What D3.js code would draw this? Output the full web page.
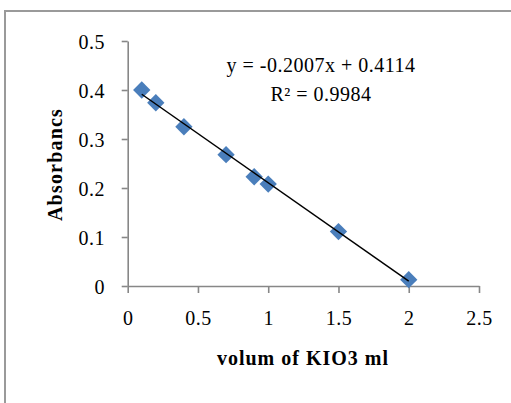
<!DOCTYPE html>
<html>
<head>
<meta charset="utf-8">
<script src="https://cdn.jsdelivr.net/npm/d3@7"></script>
<style>
  html, body { margin: 0; padding: 0; background: #fff; }
  svg { display: block; }
  text { font-family: "Liberation Serif", "Times New Roman", serif; fill: #000; }
</style>
</head>
<body>
<svg id="chart" width="511" height="403"></svg>
<script>
// Data
const volumes = [0.1, 0.2, 0.4, 0.7, 0.9, 1.0, 1.5, 2.0];
const absorbance = [0.400, 0.374, 0.325, 0.268, 0.223, 0.208, 0.111, 0.013];
const slope = -0.2007;
const intercept = 0.4114;
const equationLabel = "y = -0.2007x + 0.4114";
const r2Value = "0.9984";
const xTicks = [0, 0.5, 1, 1.5, 2, 2.5];
const yTicks = [0, 0.1, 0.2, 0.3, 0.4, 0.5];
const xTitle = "volum of KIO3 ml";
const yTitle = "Absorbancs";

const svg = d3.select("#chart");

// Outer border
svg.append("rect")
  .attr("x", 5).attr("y", 11)
  .attr("width", 530).attr("height", 420)
  .attr("fill", "none")
  .attr("stroke", "#9a9a9a")
  .attr("stroke-width", 2);

const x = d3.scaleLinear().domain([0, 2.5]).range([127.7, 479]);
const y = d3.scaleLinear().domain([0, 0.5]).range([286, 41]);

const axisColor = "#878787";

// Y axis
const yAxis = svg.append("g")
  .attr("transform", `translate(${x(0)},0)`)
  .call(d3.axisLeft(y).tickValues(yTicks).tickSize(6).tickSizeOuter(0)
        .tickFormat(d => d3.format("")(d)));
yAxis.select(".domain").attr("stroke", axisColor).attr("stroke-width", 1.6);
yAxis.selectAll(".tick line").attr("stroke", axisColor).attr("stroke-width", 1.6);
yAxis.selectAll(".tick text")
  .attr("x", -22.7).attr("dy", "0.35em")
  .attr("font-size", 20).attr("letter-spacing", 0.5)
  .style("font-family", "'Liberation Serif', serif").attr("fill", "#000");

// X axis
const xAxis = svg.append("g")
  .attr("transform", `translate(0,${y(0)})`)
  .call(d3.axisBottom(x).tickValues(xTicks).tickSize(7).tickSizeOuter(0)
        .tickFormat(d => d3.format("")(d)));
xAxis.select(".domain").attr("stroke", axisColor).attr("stroke-width", 1.6);
xAxis.selectAll(".tick line").attr("stroke", axisColor).attr("stroke-width", 1.6);
xAxis.selectAll(".tick text")
  .attr("y", 39).attr("dy", 0)
  .attr("font-size", 20).attr("letter-spacing", 0.5)
  .style("font-family", "'Liberation Serif', serif").attr("fill", "#000");

// Points
const pts = volumes.map((v, i) => ({ v, a: absorbance[i] }));
svg.append("g").selectAll("path")
  .data(pts).join("path")
  .attr("d", d3.symbol(d3.symbolSquare, 150)())
  .attr("transform", d => `translate(${x(d.v)},${y(d.a)}) rotate(45)`)
  .attr("fill", "#4a7ebb");

// Trendline
const x0 = d3.min(volumes), x1 = d3.max(volumes);
svg.append("line")
  .attr("x1", x(x0)).attr("y1", y(slope * x0 + intercept))
  .attr("x2", x(x1)).attr("y2", y(slope * x1 + intercept))
  .attr("stroke", "#000").attr("stroke-width", 1.5);

// Equation labels
svg.append("text")
  .attr("x", 321).attr("y", 72)
  .attr("text-anchor", "middle")
  .attr("font-size", 20).attr("letter-spacing", 0.5)
  .text(equationLabel);
svg.append("text")
  .attr("x", 321).attr("y", 101)
  .attr("text-anchor", "middle")
  .attr("font-size", 20).attr("letter-spacing", 0.5)
  .text("R² = " + r2Value);

// Axis titles
svg.append("text")
  .attr("x", 303).attr("y", 365)
  .attr("text-anchor", "middle")
  .attr("font-size", 20).attr("font-weight", "bold").attr("letter-spacing", 1)
  .text(xTitle);
svg.append("text")
  .attr("transform", "translate(62,164.5) rotate(-90)")
  .attr("text-anchor", "middle")
  .attr("font-size", 20).attr("font-weight", "bold").attr("letter-spacing", 1.2)
  .text(yTitle);
</script>
</body>
</html>
